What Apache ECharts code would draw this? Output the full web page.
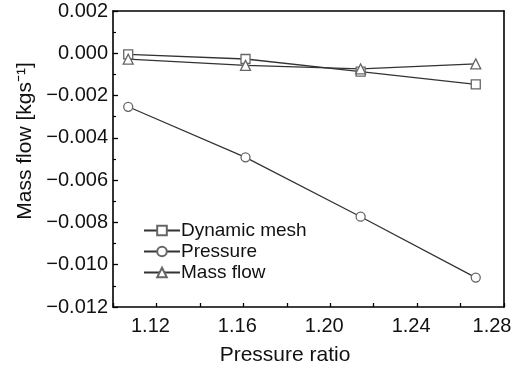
<!DOCTYPE html>
<html><head><meta charset="utf-8">
<script src="https://cdn.jsdelivr.net/npm/echarts@6/dist/echarts.min.js"></script>
<style>html,body{margin:0;padding:0;background:#fff}#c{width:513px;height:376px}</style>
</head><body><div id="c"></div>
<script>
const pressureRatio = [1.107, 1.161, 1.214, 1.267];
const dynamicMesh = [-0.00005, -0.00027, -0.00087, -0.00147];
const pressure = [-0.00253, -0.00492, -0.00773, -0.01061];
const massFlow = [-0.00028, -0.00057, -0.00074, -0.0005];
const seriesNames = ['Dynamic mesh', 'Pressure', 'Mass flow'];
const xTickLabels = ['1.12', '1.16', '1.20', '1.24', '1.28'];

const font = 'Liberation Sans, Arial, sans-serif';
const chart = echarts.init(document.getElementById('c'));
function pts(ys){ return pressureRatio.map((x,i)=>[x, ys[i]]); }
const lineStyle = {color:'#333', width:1.3};
const itemStyle = {color:'#fff', borderColor:'#666', borderWidth:1.3};
const lastLabel = xTickLabels[xTickLabels.length-1];
chart.setOption({
  animation:false,
  grid:{left:113, right:9, top:11, bottom:69, containLabel:false, outerBoundsMode:'none'},
  legend:{
    left:138, top:216, orient:'vertical', itemWidth:36, itemHeight:12, itemGap:2,
    textStyle:{fontFamily:font, fontSize:19, color:'#111', padding:[0,0,0,-4]},
    data:seriesNames
  },
  xAxis:[{
    type:'value', min:1.10, max:1.28, interval:0.02,
    axisLine:{onZero:false, lineStyle:{color:'#000', width:1.6}},
    axisTick:{inside:true, length:4, lineStyle:{color:'#000', width:1.3}},
    splitLine:{show:false},
    axisLabel:{fontFamily:font, fontSize:20, color:'#111', margin:9, hideOverlap:false,
      formatter:v=>{const s=v.toFixed(2); if(!xTickLabels.includes(s)) return ''; return s===lastLabel?'{e|'+s+'}':'{n|'+s+'}';},
      rich:{
        n:{fontFamily:font, fontSize:20, color:'#111', padding:[0,12,0,0]},
        e:{fontFamily:font, fontSize:20, color:'#111', padding:[0,24,0,0]}
      }},
    name:'Pressure ratio', nameLocation:'middle', nameGap:38,
    nameTextStyle:{fontFamily:font, fontSize:21, color:'#111', padding:[0,47,0,0]}
  },{
    type:'value', position:'top', min:1.10, max:1.28,
    axisLine:{onZero:false, lineStyle:{color:'#000', width:1.6}},
    axisTick:{show:false}, axisLabel:{show:false}, splitLine:{show:false}
  }],
  yAxis:[{
    type:'value', min:-0.012, max:0.002, interval:0.002,
    axisLine:{show:true, onZero:false, lineStyle:{color:'#000', width:1.6}},
    axisTick:{inside:true, length:5, lineStyle:{color:'#000', width:1.3}},
    minorTick:{show:true, splitNumber:2, length:3, lineStyle:{color:'#000', width:1.2}},
    splitLine:{show:false},
    axisLabel:{fontFamily:font, fontSize:20, color:'#111', margin:5,
      formatter:v=>{const s=Math.abs(v).toFixed(3); return v< -1e-9 ? '\u2212'+s : s;}},
    name:'Mass flow [kgs\u207B\u00B9]', nameLocation:'middle', nameGap:76,
    nameTextStyle:{fontFamily:font, fontSize:21, color:'#111', padding:[0,0,0,36]}
  },{
    type:'value', position:'right', min:-0.012, max:0.002,
    axisLine:{show:true, onZero:false, lineStyle:{color:'#000', width:1.6}},
    axisTick:{show:false}, axisLabel:{show:false}, splitLine:{show:false}
  }],
  series:[
    {name:seriesNames[0], type:'line', data:pts(dynamicMesh), symbol:'rect', symbolSize:9, lineStyle, itemStyle},
    {name:seriesNames[1], type:'line', data:pts(pressure), symbol:'circle', symbolSize:9, lineStyle, itemStyle},
    {name:seriesNames[2], type:'line', data:pts(massFlow), symbol:'triangle', symbolSize:10, lineStyle, itemStyle}
  ]
});
</script></body></html>
